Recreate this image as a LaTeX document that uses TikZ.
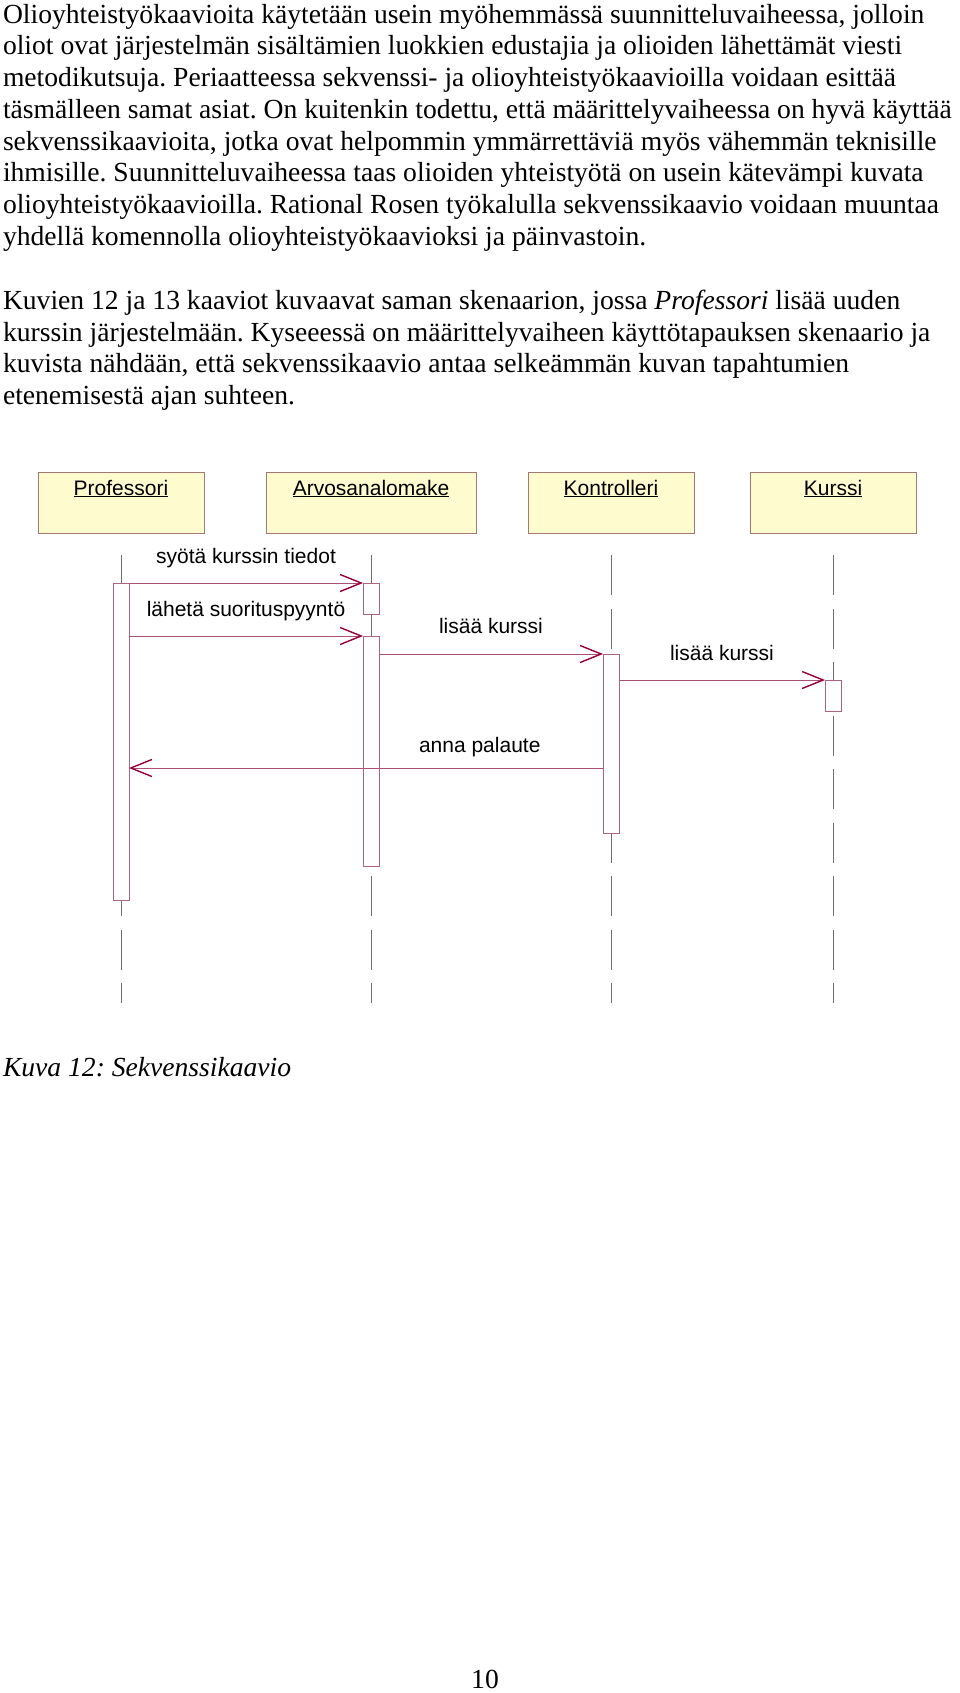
\documentclass[tikz,border=0pt]{standalone}
\usepackage{fontspec}
\setmainfont{Liberation Serif}
\newfontfamily\umlfont{Liberation Sans}
\usetikzlibrary{arrows.meta,positioning}
\frenchspacing

\definecolor{objfill}{RGB}{254,251,206}
\definecolor{objborder}{RGB}{165,120,115}
\definecolor{actborder}{RGB}{170,100,130}
\definecolor{msgline}{RGB}{170,80,115}
\definecolor{msgtip}{RGB}{150,0,55}
\definecolor{lifegray}{RGB}{110,110,110}

\begin{document}
\begin{tikzpicture}[
  x=1pt, y=-1pt,
  every node/.style={inner sep=0pt, outer sep=0pt},
  body/.style={font=\fontsize{27.6}{31.75}\selectfont, align=left, anchor=north west},
  object/.style={draw=objborder, fill=objfill, line width=0.9pt, minimum width=166pt,
    text height=22pt, text depth=37pt, inner ysep=1pt, font=\umlfont\fontsize{21}{25}\selectfont},
  lifeline/.style={draw=lifegray, line width=0.7pt, dash pattern=on 40pt off 13.5pt},
  activation/.style={draw=actborder, fill=white, line width=0.8pt, minimum width=16pt, anchor=north},
  message/.style={draw=msgline, line width=0.8pt,
    -{Straight Barb[length=21pt,width=17pt,line width=1.4pt,color=msgtip]}},
  msglabel/.style={font=\umlfont\fontsize{21}{25}\selectfont, anchor=base}
]
\useasboundingbox (0,0) rectangle (960,1693);

% text above the figure
\node[body] (para1) at (3,4) {Olioyhteistyökaavioita käytetään usein myöhemmässä suunnitteluvaiheessa, jolloin\\
oliot ovat järjestelmän sisältämien luokkien edustajia ja olioiden lähettämät viesti\\
metodikutsuja. Periaatteessa sekvenssi- ja olioyhteistyökaavioilla voidaan esittää\\
täsmälleen samat asiat. On kuitenkin todettu, että määrittelyvaiheessa on hyvä käyttää\\
sekvenssikaavioita, jotka ovat helpommin ymmärrettäviä myös vähemmän teknisille\\
ihmisille. Suunnitteluvaiheessa taas olioiden yhteistyötä on usein kätevämpi kuvata\\
olioyhteistyökaavioilla. Rational Rosen työkalulla sekvenssikaavio voidaan muuntaa\\
yhdellä komennolla olioyhteistyökaavioksi ja päinvastoin.};
\node[body] (para2) at (3,290) {Kuvien 12 ja 13 kaaviot kuvaavat saman skenaarion, jossa \textit{Professori} lisää uuden\\
kurssin järjestelmään. Kyseeessä on määrittelyvaiheen käyttötapauksen skenaario ja\\
kuvista nähdään, että sekvenssikaavio antaa selkeämmän kuvan tapahtumien\\
etenemisestä ajan suhteen.};

% objects
\node[object] (prof) at (121,502.5) {\underline{Professori}};
\node[object, minimum width=210pt] (lomake) at (371,502.5) {\underline{Arvosanalomake}};
\node[object] (kontr) at (611,502.5) {\underline{Kontrolleri}};
\node[object] (kurssi) at (833,502.5) {\underline{Kurssi}};

% lifelines
\coordinate (lifeend) at (0,1003);
\foreach \obj in {prof,lomake,kontr,kurssi}
  \draw[lifeline] ([yshift=-22pt]\obj.south) -- (\obj.south |- lifeend);

% activations
\node[activation, minimum height=317pt] (act1) at (121,583) {};
\node[activation, minimum height=31pt] (act2) at (371,583) {};
\node[activation, minimum height=230pt] (act3) at (371,636) {};
\node[activation, minimum height=179pt] (act4) at (611,654) {};
\node[activation, minimum height=31pt] (act5) at (833,680) {};

% messages
\draw[message] (act1.east |- act2.north) -- (act2.north west)
  node[msglabel, midway, yshift=20pt] {syötä kurssin tiedot};
\draw[message] (act1.east |- act3.north) -- (act3.north west)
  node[msglabel, midway, yshift=20pt] {lähetä suorituspyyntö};
\draw[message] (act3.east |- act4.north) -- (act4.north west)
  node[msglabel, midway, yshift=21pt] {lisää kurssi};
\draw[message] (act4.east |- act5.north) -- (act5.north west)
  node[msglabel, midway, yshift=20pt] {lisää kurssi};
\coordinate (palaute) at (0,768);
\draw[message] (act4.west |- palaute) -- (act1.east |- palaute)
  node[msglabel, pos=0.26, yshift=16pt] {anna palaute};

\node[anchor=base west, font=\fontsize{27.6}{31.75}\selectfont\itshape] (caption) at (3,1076) {Kuva 12: Sekvenssikaavio};
\node[anchor=base, font=\fontsize{27.6}{31.75}\selectfont] (pagenum) at (485,1688) {10};
\end{tikzpicture}
\end{document}
